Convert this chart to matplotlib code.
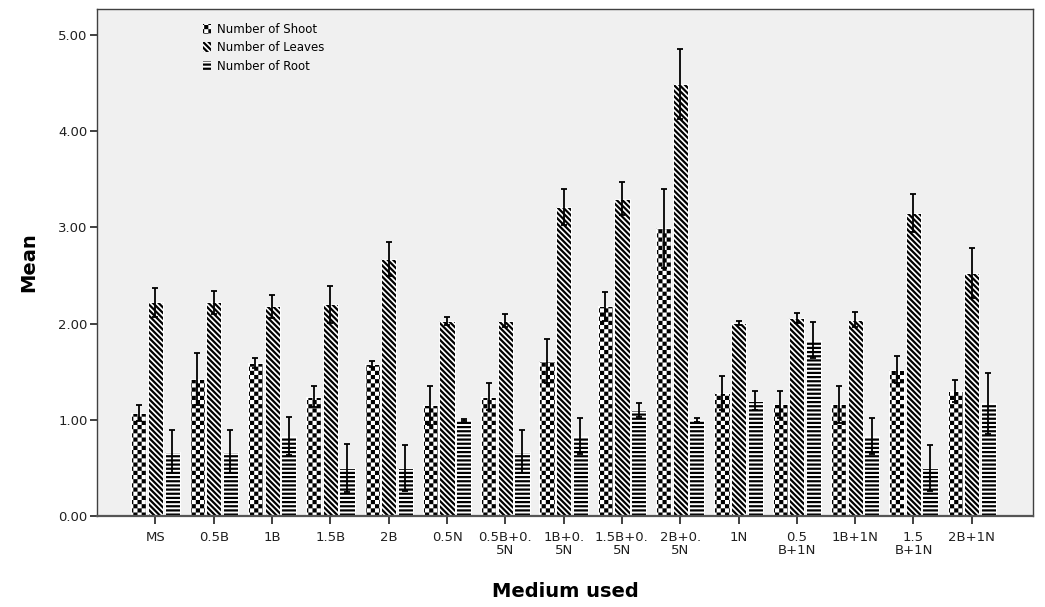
#!/usr/bin/env python3
"""Mean number of shoots, leaves and roots per medium (SPSS-style hatched bars)."""

import warnings

import matplotlib
matplotlib.use("Agg")
import matplotlib.hatch as mhatch
import matplotlib.pyplot as plt
import numpy as np
from matplotlib.path import Path

warnings.filterwarnings("ignore", message=".*hatch must consist.*")

plt.rcParams.update({
    "font.family": ["DejaVu Sans"],
    "hatch.linewidth": 1.6,
    "hatch.color": "black",
})

MEDIA = [
    "MS", "0.5B", "1B", "1.5B", "2B", "0.5N", "0.5B+0.\n5N", "1B+0.\n5N",
    "1.5B+0.\n5N", "2B+0.\n5N", "1N", "0.5\nB+1N", "1B+1N", "1.5\nB+1N", "2B+1N",
]
SHOOT = [1.07, 1.42, 1.59, 1.24, 1.58, 1.15, 1.24, 1.61, 2.18, 2.99, 1.28, 1.16, 1.16, 1.52, 1.30]
SHOOT_ERR = [0.08, 0.27, 0.05, 0.11, 0.03, 0.20, 0.14, 0.23, 0.15, 0.41, 0.18, 0.14, 0.19, 0.14, 0.11]
LEAVES = [2.22, 2.22, 2.18, 2.20, 2.67, 2.03, 2.03, 3.21, 3.30, 4.49, 2.01, 2.06, 2.04, 3.15, 2.53]
LEAVES_ERR = [0.15, 0.12, 0.12, 0.19, 0.18, 0.04, 0.07, 0.19, 0.17, 0.36, 0.02, 0.05, 0.08, 0.20, 0.26]
ROOT = [0.67, 0.67, 0.83, 0.50, 0.50, 1.00, 0.67, 0.83, 1.10, 1.00, 1.20, 1.83, 0.83, 0.50, 1.17]
ROOT_ERR = [0.22, 0.22, 0.20, 0.25, 0.24, 0.01, 0.22, 0.19, 0.07, 0.02, 0.10, 0.19, 0.19, 0.24, 0.32]


class CheckerHatch(mhatch.HatchPatternBase):
    """Checkerboard squares for the 'c' hatch character."""
    inset = 0.011  # Agg also strokes the hatch path, so shrink the squares a bit

    def __init__(self, hatch, density):
        n = int(hatch.count("c") * density)
        self.cells = n + (n % 2)
        self.num_vertices = (self.cells ** 2 // 2) * 5

    def set_vertices_and_codes(self, vertices, codes):
        step = 1.0 / self.cells
        d = self.inset
        square = np.array([[d, d], [step - d, d], [step - d, step - d],
                           [d, step - d], [d, d]])
        parts = [square + [i * step, j * step]
                 for i in range(self.cells) for j in range(self.cells)
                 if (i + j) % 2 == 0]
        vertices[:] = np.concatenate(parts)
        codes[:] = np.tile([Path.MOVETO, Path.LINETO, Path.LINETO,
                            Path.LINETO, Path.CLOSEPOLY], len(parts))


mhatch._hatch_types.append(CheckerHatch)


def main() -> None:
    fig = plt.figure(figsize=(10.45, 6.07), dpi=100)
    ax = fig.add_axes([0.093, 0.15, 0.8955, 0.835])
    ax.set_facecolor("#f0f0f0")

    x = np.arange(len(MEDIA))
    width = 0.26
    offset = 0.285
    series = [
        (SHOOT, SHOOT_ERR, "cccc", "Number of Shoot", -offset),
        (LEAVES, LEAVES_ERR, "\\" * 6, "Number of Leaves", 0.0),
        (ROOT, ROOT_ERR, "----", "Number of Root", offset),
    ]
    handles = []
    for vals, errs, hatch, label, dx in series:
        b = ax.bar(x + dx, vals, width, color="white", edgecolor="black",
                   linewidth=0, hatch=hatch, label=label, zorder=2)
        handles.append(b)
        # thin white rim like the SPSS output
        ax.bar(x + dx, vals, width, fill=False, edgecolor="white",
               linewidth=0.7, zorder=2.5)
        ax.errorbar(x + dx, vals, yerr=errs, fmt="none", ecolor="black",
                    elinewidth=1.3, capsize=2.5, capthick=1.3, zorder=3)

    ax.set_xlim(-1.0, len(MEDIA) + 0.05)
    ax.set_ylim(0, 5.27)
    ax.set_yticks(np.arange(0, 5.01, 1.0))
    ax.yaxis.set_major_formatter(plt.FormatStrFormatter("%.2f"))
    ax.set_xticks(x)
    ax.set_xticklabels(MEDIA, linespacing=0.95)
    ax.tick_params(axis="both", labelsize=9.5, colors="#202020", width=1.2)
    ax.tick_params(axis="y", pad=2, length=5)
    ax.tick_params(axis="x", pad=5, length=6)

    for spine in ax.spines.values():
        spine.set_color("#404040")
        spine.set_linewidth(1.0)
    ax.spines["bottom"].set_linewidth(1.6)
    ax.spines["bottom"].set_color("#555555")

    ax.set_xlabel("Medium used", fontsize=14, fontweight="bold", labelpad=18)
    ax.set_ylabel("Mean", fontsize=14, fontweight="bold", labelpad=14)

    ax.legend(handles=handles, loc="upper left", bbox_to_anchor=(0.108, 0.982),
              frameon=False, fontsize=8.5, handlelength=0.7, handleheight=0.9,
              handletextpad=0.5, labelspacing=0.45, borderaxespad=0)

    fig.savefig("out.png", dpi=100)
    plt.close(fig)


if __name__ == "__main__":
    main()
